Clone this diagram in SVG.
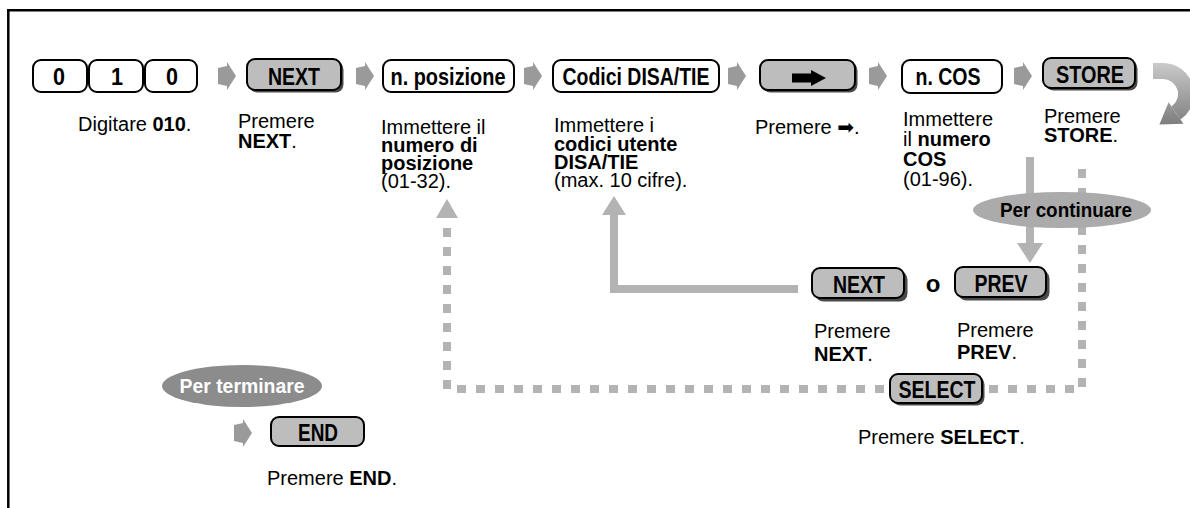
<svg xmlns="http://www.w3.org/2000/svg" xmlns:xlink="http://www.w3.org/1999/xlink" width="1190" height="508" viewBox="0 0 1190 508">
<style>
.kw{fill:#fff;stroke:#000;stroke-width:2}
.kg{fill:#bdbdbd;stroke:#000;stroke-width:2}
.sh{fill:#4a4a4a}
.kt{font-family:"Liberation Sans",Arial,Helvetica,sans-serif;font-weight:bold;font-size:24px;text-anchor:middle;fill:#000}
.et{font-family:"Liberation Sans",Arial,Helvetica,sans-serif;font-weight:bold;font-size:21px;text-anchor:middle}
.cap{font-family:"Liberation Sans",Arial,Helvetica,sans-serif;font-size:20px;fill:#000}
.b{font-weight:bold}
.chev{fill:#9a9a9a}
.ln{fill:none;stroke:#b3b3b3;stroke-width:8}
.dash{fill:none;stroke:#b3b3b3;stroke-width:8;stroke-dasharray:9 10}
.ah{fill:#b3b3b3}
</style>
<defs>
<path id="chev" d="M0,-8 L9,-10 L9,-14 L18,0 L9,14 L9,10 L0,8 Z"/>
<linearGradient id="cg" gradientUnits="userSpaceOnUse" x1="0" y1="63" x2="0" y2="128">
<stop offset="0" stop-color="#cacaca"/>
<stop offset="1" stop-color="#7a7a7a"/>
</linearGradient>
</defs>

<g id="frame">
<line x1="7" y1="10.3" x2="1190" y2="10.3" stroke="#000" stroke-width="2.5"/>
<line x1="8.3" y1="9" x2="8.3" y2="508" stroke="#000" stroke-width="2.5"/>
</g>

<g id="connectors">
<use xlink:href="#chev" href="#chev" x="218" y="76" class="chev"/>
<use xlink:href="#chev" href="#chev" x="356" y="76" class="chev"/>
<use xlink:href="#chev" href="#chev" x="524" y="76" class="chev"/>
<use xlink:href="#chev" href="#chev" x="728" y="76" class="chev"/>
<use xlink:href="#chev" href="#chev" x="869" y="76" class="chev"/>
<use xlink:href="#chev" href="#chev" x="1014" y="76" class="chev"/>
<use xlink:href="#chev" href="#chev" x="234" y="433" class="chev"/>
<path d="M1153,71 L1163,71 A23,23 0 0 1 1176,113" fill="none" stroke="url(#cg)" stroke-width="16"/>
<polygon points="1183.4,123.8 1168.6,102.2 1159.4,124.4" fill="url(#cg)"/>
<path class="ln" d="M798,289 L614,289 L614,213"/>
<polygon class="ah" points="602,215 626,215 614,196"/>
<path class="dash" d="M1082,169 L1082,389 L447,389 L447,218"/>
<polygon class="ah" points="436,218 458,218 447,199"/>
<path class="ln" d="M1030,157 L1030,245"/>
<polygon class="ah" points="1017,243 1043,243 1030,263"/>
</g>

<g id="key-0a"><rect class="kw" x="33" y="60" width="54" height="32" rx="8"/><text class="kt" x="59" y="85" textLength="12" lengthAdjust="spacingAndGlyphs">0</text></g>
<g id="key-1"><rect class="kw" x="89" y="60" width="54" height="32" rx="8"/><text class="kt" x="117" y="85" textLength="12" lengthAdjust="spacingAndGlyphs">1</text></g>
<g id="key-0b"><rect class="kw" x="145" y="60" width="52" height="32" rx="8"/><text class="kt" x="172" y="85" textLength="12" lengthAdjust="spacingAndGlyphs">0</text></g>
<g id="cap-010"><text class="cap" x="78" y="131">Digitare <tspan class="b">010</tspan>.</text></g>

<g id="key-next"><rect class="sh" x="249.5" y="61.5" width="94" height="31" rx="8"/><rect class="kg" x="247" y="59" width="94" height="31" rx="8"/><text class="kt" x="294" y="85" textLength="52" lengthAdjust="spacingAndGlyphs">NEXT</text></g>
<g id="cap-next"><text class="cap" x="238" y="128">Premere</text><text class="cap b" x="238" y="148">NEXT<tspan font-weight="normal">.</tspan></text></g>

<g id="key-pos"><rect class="kw" x="383" y="60" width="131" height="32" rx="8"/><text class="kt" x="448" y="85" textLength="115" lengthAdjust="spacingAndGlyphs">n. posizione</text></g>
<g id="cap-pos"><text class="cap" x="381" y="134">Immettere il</text><text class="cap b" x="381" y="152">numero di</text><text class="cap b" x="381" y="170">posizione</text><text class="cap" x="381" y="188">(01-32).</text></g>

<g id="key-disa"><rect class="kw" x="553" y="60" width="166" height="32" rx="8"/><text class="kt" x="636" y="85" textLength="147" lengthAdjust="spacingAndGlyphs">Codici DISA/TIE</text></g>
<g id="cap-disa"><text class="cap" x="554" y="132">Immettere i</text><text class="cap b" x="554" y="151">codici utente</text><text class="cap b" x="554" y="169">DISA/TIE</text><text class="cap" x="554" y="187">(max. 10 cifre).</text></g>

<g id="key-arrow"><rect class="sh" x="762.5" y="62.5" width="95" height="30" rx="8"/><rect class="kg" x="760" y="60" width="95" height="30" rx="8"/><path d="M792,73.5 L811,73.5 L811,70 L826,78 L811,86 L811,82.5 L792,82.5 Z" fill="#000"/></g>
<g id="cap-arrow"><text class="cap" x="755" y="134">Premere <tspan font-family="'DejaVu Sans',sans-serif">➡</tspan>.</text></g>

<g id="key-cos"><rect class="kw" x="902" y="60" width="100" height="33" rx="8"/><text class="kt" x="948" y="85" textLength="65" lengthAdjust="spacingAndGlyphs">n. COS</text></g>
<g id="cap-cos"><text class="cap" x="903" y="126">Immettere</text><text class="cap" x="903" y="146">il <tspan class="b">numero</tspan></text><text class="cap b" x="903" y="166">COS</text><text class="cap" x="903" y="186">(01-96).</text></g>

<g id="key-store"><rect class="sh" x="1045.5" y="60.5" width="92" height="30" rx="8"/><rect class="kg" x="1043" y="58" width="92" height="30" rx="8"/><text class="kt" x="1090" y="83" textLength="68" lengthAdjust="spacingAndGlyphs">STORE</text></g>
<g id="cap-store"><text class="cap" x="1044" y="123">Premere</text><text class="cap b" x="1044" y="142">STORE<tspan font-weight="normal">.</tspan></text></g>

<g id="per-continuare"><ellipse cx="1062" cy="210" rx="89" ry="18" fill="#ababab"/><text class="et" x="1066" y="217" textLength="132" lengthAdjust="spacingAndGlyphs" fill="#000">Per continuare</text></g>

<g id="key-next2"><rect class="sh" x="815.5" y="271.5" width="92" height="30" rx="8"/><rect class="kg" x="812" y="268" width="92" height="30" rx="8"/><text class="kt" x="859" y="293" textLength="52" lengthAdjust="spacingAndGlyphs">NEXT</text></g>
<g id="o"><text class="kt" x="933" y="292" font-size="20">o</text></g>
<g id="key-prev"><rect class="sh" x="958.5" y="270.5" width="91" height="30" rx="8"/><rect class="kg" x="955" y="267" width="91" height="30" rx="8"/><text class="kt" x="1001" y="292" textLength="53" lengthAdjust="spacingAndGlyphs">PREV</text></g>
<g id="cap-next2"><text class="cap" x="814" y="338">Premere</text><text class="cap b" x="814" y="361">NEXT<tspan font-weight="normal">.</tspan></text></g>
<g id="cap-prev"><text class="cap" x="957" y="337">Premere</text><text class="cap b" x="957" y="359">PREV<tspan font-weight="normal">.</tspan></text></g>

<g id="key-select"><rect class="sh" x="892.5" y="376.5" width="92" height="29" rx="8"/><rect class="kg" x="890" y="374" width="92" height="29" rx="8"/><text class="kt" x="937" y="398" textLength="77" lengthAdjust="spacingAndGlyphs">SELECT</text></g>
<g id="cap-select"><text class="cap" x="858" y="444">Premere <tspan class="b">SELECT</tspan>.</text></g>

<g id="per-terminare"><ellipse cx="242" cy="386" rx="80" ry="21" fill="#8c8c8c"/><text class="et" x="242" y="393" textLength="125" lengthAdjust="spacingAndGlyphs" fill="#fff">Per terminare</text></g>

<g id="key-end"><rect class="kg" x="271" y="417" width="93" height="29" rx="8"/><text class="kt" x="318" y="441" textLength="40" lengthAdjust="spacingAndGlyphs">END</text></g>
<g id="cap-end"><text class="cap" x="267" y="485">Premere <tspan class="b">END</tspan>.</text></g>
</svg>
